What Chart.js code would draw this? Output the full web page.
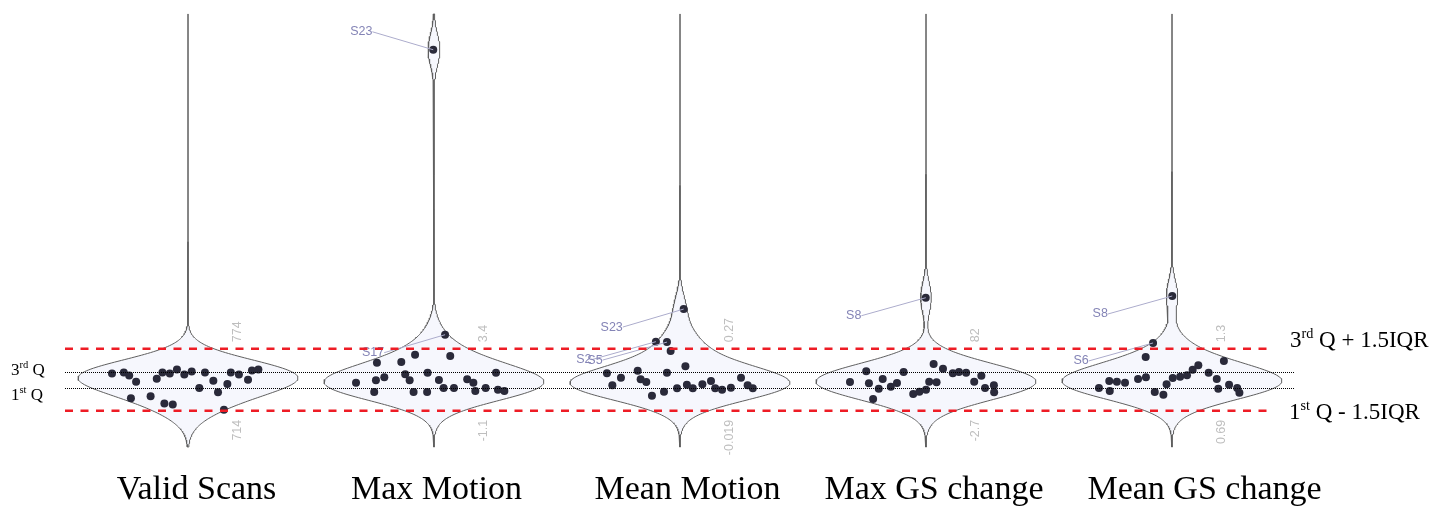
<!DOCTYPE html>
<html>
<head>
<meta charset="utf-8">
<script src="https://cdn.jsdelivr.net/npm/chart.js@4.4.1/dist/chart.umd.min.js"></script>
<style>
  html, body { margin: 0; padding: 0; background: #fff; }
  #wrap { width: 1437px; height: 508px; position: relative; }
</style>
</head>
<body>
<div id="wrap"><canvas id="violins"></canvas></div>
<script>
const categories = ['Valid Scans', 'Max Motion', 'Mean Motion', 'Max GS change', 'Mean GS change'];

// fences printed beside each violin: 3rd Q + 1.5IQR and 1st Q - 1.5IQR
const upperFence = [774, 3.4, 0.27, 82, 1.3];
const lowerFence = [714, -1.1, -0.019, -2.7, 0.69];

// per-subject values, with the horizontal jitter of each dot (category units)
const validScans = [750, 751, 748, 742, 726, 728, 745, 751, 750, 754, 749, 752, 721, 720, 736, 751, 743, 732, 715, 740, 751, 749, 744, 753, 754];
const validJitter = [-0.309, -0.261, -0.239, -0.211, -0.232, -0.152, -0.127, -0.104, -0.074, -0.045, -0.015, 0.015, -0.096, -0.062, 0.046, 0.069, 0.103, 0.122, 0.146, 0.160, 0.174, 0.207, 0.244, 0.260, 0.286];

const maxMotion = [0.94, 1.11, 2.39, 0.26, 1.33, 2.44, 1.55, 1.11, 2.97, 0.26, 0.26, 1.66, 1.13, 0.55, 4.42, 2.87, 0.55, 1.18, 0.94, 0.33, 0.55, 1.66, 0.43, 0.33, 25.1];
const maxMotionJitter = [-0.317, -0.236, -0.232, -0.243, -0.202, -0.133, -0.117, -0.099, -0.077, -0.083, -0.028, -0.026, 0.020, 0.039, 0.045, 0.066, 0.081, 0.135, 0.160, 0.168, 0.210, 0.252, 0.260, 0.286, -0.003];

const meanMotion = [0.156, 0.100, 0.135, 0.168, 0.128, 0.115, 0.051, 0.303, 0.070, 0.301, 0.158, 0.260, 0.086, 0.455, 0.188, 0.102, 0.086, 0.104, 0.120, 0.086, 0.079, 0.088, 0.135, 0.100, 0.086];
const meanMotionJitter = [-0.297, -0.275, -0.240, -0.172, -0.160, -0.137, -0.114, -0.098, -0.065, -0.053, -0.053, -0.038, -0.012, 0.015, 0.022, 0.028, 0.052, 0.091, 0.126, 0.143, 0.171, 0.207, 0.248, 0.275, 0.296];

const maxGs = [36.6, 51.2, 34.8, 13.4, 27.4, 40.7, 30.2, 35.2, 50.2, 20.2, 23.3, 26.1, 151.7, 37.0, 61.2, 36.2, 54.7, 48.5, 50.2, 49.3, 37.0, 45.2, 28.4, 32.1, 22.5];
const maxGsJitter = [-0.309, -0.243, -0.232, -0.215, -0.192, -0.176, -0.143, -0.118, -0.091, -0.052, -0.027, 0.000, -0.001, 0.013, 0.031, 0.043, 0.069, 0.109, 0.134, 0.163, 0.196, 0.225, 0.240, 0.276, 0.277];

const meanGs = [0.914, 0.983, 0.884, 0.976, 0.966, 1.002, 1.219, 1.019, 1.357, 0.874, 0.848, 0.950, 1.012, 1.819, 1.025, 1.039, 1.094, 1.137, 1.064, 1.002, 0.907, 1.179, 0.946, 0.914, 0.868];
const meanGsJitter = [-0.297, -0.255, -0.253, -0.224, -0.191, -0.138, -0.107, -0.106, -0.077, -0.070, -0.035, -0.022, 0.003, 0.001, 0.033, 0.061, 0.084, 0.107, 0.149, 0.182, 0.188, 0.211, 0.232, 0.265, 0.274];

// labelled outliers: [index in the column's array, subject]
const outlierLabels = [
  [],
  [[24, 'S23'], [14, 'S17']],
  [[13, 'S23'], [7, 'S2'], [9, 'S5']],
  [[12, 'S8']],
  [[13, 'S8'], [8, 'S6']]
];

const columns = [validScans, maxMotion, meanMotion, maxGs, meanGs];
const jitters = [validJitter, maxMotionJitter, meanMotionJitter, maxGsJitter, meanGsJitter];

// every column is drawn on its own IQR scale: 1st Q -> 0, 3rd Q -> 1
function normalise(col, v) {
  const iqr = (upperFence[col] - lowerFence[col]) / 4;
  const q1 = lowerFence[col] + 1.5 * iqr;
  return (v - q1) / iqr;
}

const zTop = 24.1, zBottom = -3.84;
const halfWidth = 0.447;

function violin(col, zs) {
  const bw = 1.0, n = 500;
  const dens = [];
  for (let k = 0; k <= n; k++) {
    const z = zBottom + (zTop - zBottom) * k / n;
    let d = 0;
    zs.forEach(v => { const u = (z - v) / bw; d += Math.exp(-0.5 * u * u); });
    dens.push([z, d]);
  }
  const dMax = Math.max(...dens.map(p => p[1]));
  const right = dens.map(([z, d]) => ({ x: col + halfWidth * d / dMax, y: z }));
  const left = dens.slice().reverse().map(([z, d]) => ({ x: col - halfWidth * d / dMax, y: z }));
  return right.concat(left, [right[0]]);
}

const datasets = [];
columns.forEach((vals, c) => {
  const zs = vals.map(v => normalise(c, v));
  datasets.push({
    label: categories[c] + ' points',
    data: zs.map((z, k) => ({ x: c + jitters[c][k], y: z })),
    pointRadius: 4,
    pointBackgroundColor: 'rgb(42,42,58)',
    pointBorderWidth: 0,
    order: 1
  });
  datasets.push({
    label: categories[c],
    data: violin(c, zs),
    showLine: true,
    fill: 'shape',
    backgroundColor: 'rgb(246,247,253)',
    borderColor: 'rgb(95,95,95)',
    borderWidth: 1,
    pointRadius: 0,
    tension: 0,
    order: 2
  });
});

const labelShift = [8.5, 2.5, 7.5, 8, 32.5];

function supText(ctx, x, base, size, parts) {
  parts.forEach(([t, sup]) => {
    const s = sup ? size * 0.62 : size;
    ctx.font = s + 'px "Liberation Serif"';
    ctx.fillText(t, x, sup ? base - size * 0.4 : base);
    x += ctx.measureText(t).width;
  });
}

const overlay = {
  id: 'overlay',
  afterDatasetsDraw(chart) {
    const { ctx, scales: { x, y } } = chart;
    ctx.save();

    // outlier name tags
    ctx.font = '12.5px "Liberation Sans"';
    ctx.textBaseline = 'middle';
    outlierLabels.forEach((list, c) => {
      list.forEach(([k, name]) => {
        const px = x.getPixelForValue(c + jitters[c][k]);
        const py = y.getPixelForValue(normalise(c, columns[c][k]));
        const ly = py < 100 ? py - 18 : py + 18;
        const lx = px - 72;
        const w = ctx.measureText(name).width;
        ctx.strokeStyle = 'rgb(172,172,204)';
        ctx.lineWidth = 1;
        ctx.beginPath();
        ctx.moveTo(lx + w / 2, ly);
        ctx.lineTo(px, py);
        ctx.stroke();
        ctx.fillStyle = 'rgb(132,132,182)';
        ctx.textAlign = 'center';
        ctx.fillText(name, lx, ly);
      });
    });

    // fence values, rotated
    ctx.fillStyle = 'rgb(190,190,190)';
    categories.forEach((cat, c) => {
      const px = x.getPixelForValue(c) + 50;
      [[upperFence[c], y.getPixelForValue(2.5) - 6.5, 'left'], [lowerFence[c], y.getPixelForValue(-1.5) + 9, 'right']].forEach(([v, py, al]) => {
        ctx.save();
        ctx.translate(px, py);
        ctx.rotate(-Math.PI / 2);
        ctx.textAlign = al;
        ctx.fillText(String(v), 0, 0);
        ctx.restore();
      });
    });

    // quartile lines
    ctx.strokeStyle = '#000';
    ctx.lineWidth = 1;
    ctx.setLineDash([1, 1]);
    [0, 1].forEach(z => {
      const py = Math.round(y.getPixelForValue(z)) + 0.5;
      ctx.beginPath();
      ctx.moveTo(x.getPixelForValue(-0.5), py);
      ctx.lineTo(x.getPixelForValue(4.5), py);
      ctx.stroke();
    });
    ctx.strokeStyle = 'rgb(238,28,37)';
    ctx.lineWidth = 2.5;
    ctx.setLineDash([8, 7.5]);
    [2.5, -1.5].forEach(z => {
      const py = y.getPixelForValue(z);
      ctx.beginPath();
      ctx.moveTo(x.getPixelForValue(-0.5), py);
      ctx.lineTo(x.getPixelForValue(4.41), py);
      ctx.stroke();
    });
    ctx.setLineDash([]);

    // side labels
    ctx.fillStyle = '#000';
    ctx.textAlign = 'left';
    ctx.textBaseline = 'alphabetic';
    supText(ctx, 11, y.getPixelForValue(1) + 2.5, 17, [['3'], ['rd', true], [' Q']]);
    supText(ctx, 11, y.getPixelForValue(0) + 12.5, 17, [['1'], ['st', true], [' Q']]);
    supText(ctx, 1290, y.getPixelForValue(2.5) - 1.5, 23, [['3'], ['rd', true], [' Q + 1.5IQR']]);
    supText(ctx, 1289, y.getPixelForValue(-1.5) + 8, 23, [['1'], ['st', true], [' Q - 1.5IQR']]);

    // category names
    ctx.font = '34px "Liberation Serif"';
    ctx.textAlign = 'center';
    categories.forEach((cat, c) => {
      ctx.fillText(cat, x.getPixelForValue(c) + labelShift[c], 499);
    });
    ctx.restore();
  }
};

new Chart(document.getElementById('violins'), {
  type: 'scatter',
  data: { datasets },
  options: {
    responsive: true,
    maintainAspectRatio: false,
    animation: false,
    events: [],
    layout: { padding: 0, autoPadding: false },
    plugins: { legend: { display: false }, tooltip: { enabled: false } },
    scales: {
      x: { type: 'linear', display: false, min: -188 / 246, max: (1437 - 188) / 246 },
      y: { type: 'linear', display: false, min: -7.774, max: 25 }
    }
  },
  plugins: [overlay]
});
</script>
</body>
</html>
